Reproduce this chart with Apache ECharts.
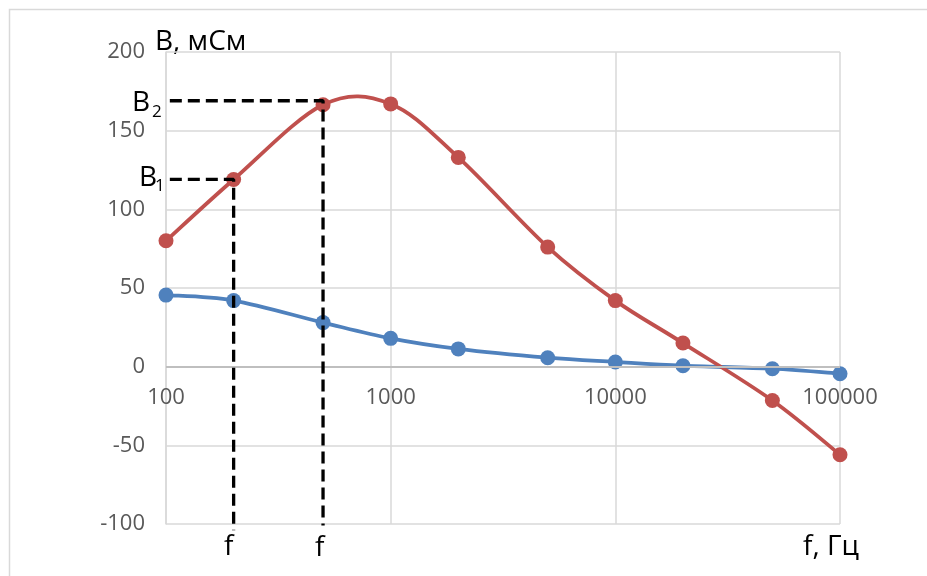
<!DOCTYPE html>
<html>
<head>
<meta charset="utf-8">
<script src="https://cdn.jsdelivr.net/npm/echarts@6/dist/echarts.min.js"></script>
<style>
  html, body { margin: 0; padding: 0; background: #fff; }
  #chart { width: 927px; height: 576px; }
</style>
</head>
<body>
<div id="chart"></div>
<script>
// частоты, Гц
const freq = [100, 200, 500, 1000, 2000, 5000, 10000, 20000, 50000, 100000]
// реактивная проводимость, мСм
const redB = [80, 119, 166.5, 167, 133, 76, 42, 15, -21.5, -56]
const blueB = [45.5, 42, 28, 18, 11.3, 5.7, 3, 0.6, -1.3, -4.5]

// вспомогательные штриховые линии
const f1 = 200, f2 = 500
const b1 = 119, b2 = 169
const guide1 = [[104, b1], [f1, b1], [f1, -104]]
const guide2 = [[104, b2], [f2, b2], [f2, -101]]

const yTicks = [-100, -50, 0, 50, 100, 150, 200]

const FONT = 'Open Sans'
const chart = echarts.init(document.getElementById('chart'))

function pairs(xs, ys) {
  return xs.map((x, i) => [x, ys[i]])
}

// сглаживание как в Excel (Catmull-Rom), точки берутся через оси
function curveSeries(ys, color) {
  const n = freq.length
  return {
    type: 'custom',
    data: pairs(freq, ys),
    encode: { x: 0, y: 1 },
    clip: false,
    silent: true,
    renderItem(params, api) {
      const i = params.dataIndex
      if (i >= n - 1) return null
      const p = (j) => {
        const k = Math.max(0, Math.min(n - 1, j))
        return api.coord([freq[k], ys[k]])
      }
      const p0 = p(i - 1), p1 = p(i), p2 = p(i + 1), p3 = p(i + 2)
      const t = 1 / 6
      return {
        type: 'bezierCurve',
        shape: {
          x1: p1[0], y1: p1[1],
          x2: p2[0], y2: p2[1],
          cpx1: p1[0] + (p2[0] - p0[0]) * t,
          cpy1: p1[1] + (p2[1] - p0[1]) * t,
          cpx2: p2[0] - (p3[0] - p1[0]) * t,
          cpy2: p2[1] - (p3[1] - p1[1]) * t
        },
        style: { stroke: color, lineWidth: 3.8, fill: null, lineCap: 'round' }
      }
    }
  }
}

function dotSeries(ys, color) {
  return {
    type: 'scatter',
    data: pairs(freq, ys),
    symbol: 'circle',
    symbolSize: 15,
    silent: true,
    itemStyle: { color, opacity: 1 }
  }
}

function guideSeries(data) {
  return {
    type: 'line',
    data,
    symbol: 'none',
    clip: false,
    silent: true,
    z: 5,
    lineStyle: { color: '#000', width: 3.3, type: [12, 6] }
  }
}

function txt(text, x, y, size) {
  return {
    type: 'text', x, y, silent: true,
    style: { text, fill: '#000', font: size + 'px "Open Sans"', verticalAlign: 'middle' }
  }
}

const option = {
  animation: false,
  backgroundColor: '#fff',
  grid: { left: 166, right: 87, top: 52, bottom: 52 },
  xAxis: {
    type: 'log',
    logBase: 10,
    min: 100,
    max: 100000,
    axisLine: { show: false },
    axisTick: { show: false },
    axisLabel: {
      color: '#595959', fontSize: 22, fontFamily: FONT, margin: -137,
      formatter: (v) => String(v)
    },
    splitLine: { show: true, lineStyle: { color: '#d9d9d9', width: 1.5 } },
    minorTick: { show: false }
  },
  yAxis: {
    type: 'value',
    min: yTicks[0],
    max: yTicks[yTicks.length - 1],
    interval: 50,
    axisLine: { show: true, lineStyle: { color: '#d9d9d9', width: 1.5 } },
    axisTick: { show: false },
    axisLabel: { color: '#595959', fontSize: 22, fontFamily: FONT, margin: 21 },
    splitLine: { lineStyle: { color: '#d9d9d9', width: 1.5 } }
  },
  graphic: [
    {
      type: 'rect',
      shape: { x: 9.5, y: 9.5, width: 940, height: 600 },
      style: { fill: null, stroke: '#d9d9d9', lineWidth: 1.5 },
      silent: true
    },
    txt('B, мСм', 155, 42, 28),
    txt('f, Гц', 803, 547, 28),
    txt('f', 224, 547, 28),
    txt('f', 315, 548, 28),
    txt('B', 132, 103, 28),
    txt('2', 152, 112, 17),
    txt('B', 139, 178, 28),
    txt('1', 155, 186, 17)
  ],
  series: [
    {
      type: 'line',
      data: [],
      silent: true,
      markLine: {
        silent: true,
        symbol: 'none',
        label: { show: false },
        lineStyle: { color: '#bfbfbf', width: 2, type: 'solid' },
        data: [{ yAxis: 0 }]
      }
    },
    curveSeries(blueB, '#4f81bd'),
    dotSeries(blueB, '#4f81bd'),
    curveSeries(redB, '#c0504d'),
    dotSeries(redB, '#c0504d'),
    guideSeries(guide1),
    guideSeries(guide2)
  ]
}

chart.setOption(option)
</script>
</body>
</html>
